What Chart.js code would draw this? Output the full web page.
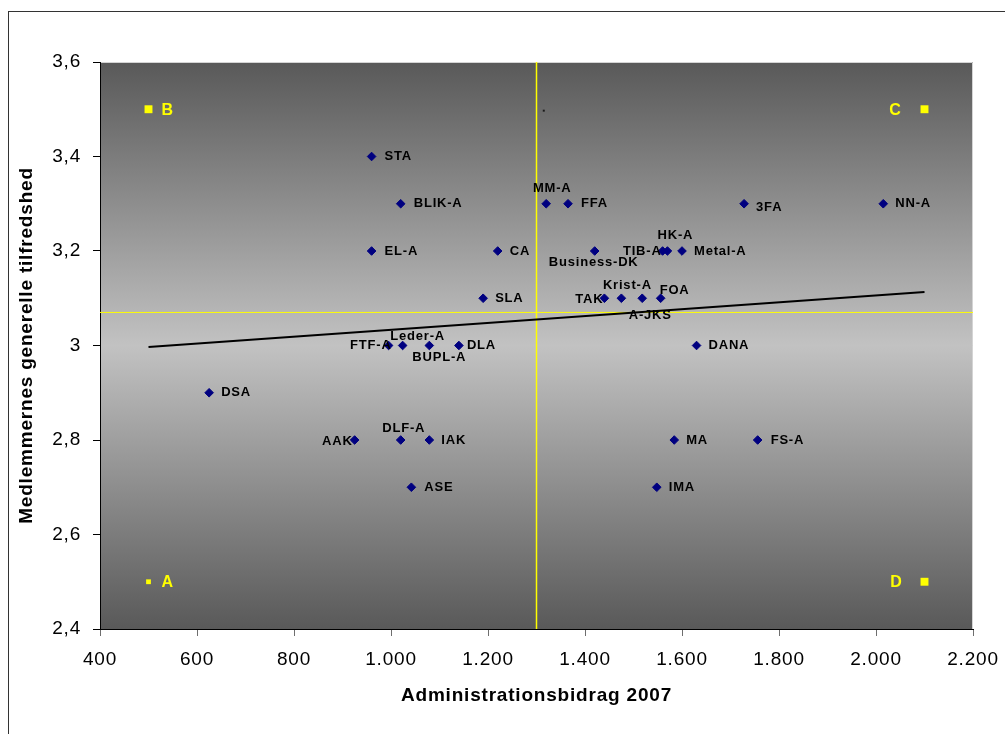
<!DOCTYPE html>
<html>
<head>
<meta charset="utf-8">
<script src="https://cdn.jsdelivr.net/npm/chart.js@4/dist/chart.umd.min.js"></script>
<style>
  html, body { margin: 0; padding: 0; background: #ffffff; }
  canvas { display: block; }
</style>
</head>
<body>
<canvas id="chart" width="1005" height="734"></canvas>
<script>
// Organisations: administration contribution 2007 vs. members' overall satisfaction
const organisations = [
  'STA', 'BLIK-A', 'EL-A', 'CA', 'MM-A', 'FFA', 'Business-DK', 'TIB-A', 'HK-A', 'Metal-A',
  '3FA', 'NN-A', 'TAK', 'Krist-A', 'A-JKS', 'FOA', 'SLA', 'FTF-A', 'Leder-A', 'BUPL-A',
  'DLA', 'DANA', 'DSA', 'AAK', 'DLF-A', 'IAK', 'ASE', 'MA', 'FS-A', 'IMA'
];
const adminBidrag = [
  960, 1020, 960, 1220, 1320, 1365, 1420, 1560, 1570, 1600,
  1728, 2015, 1440, 1475, 1518, 1556, 1190, 995, 1024, 1079,
  1140, 1630, 625, 925, 1020, 1079, 1042, 1584, 1756, 1548
];
const tilfredshed = [
  3.4, 3.3, 3.2, 3.2, 3.3, 3.3, 3.2, 3.2, 3.2, 3.2,
  3.3, 3.3, 3.1, 3.1, 3.1, 3.1, 3.1, 3.0, 3.0, 3.0,
  3.0, 3.0, 2.9, 2.8, 2.8, 2.8, 2.7, 2.8, 2.8, 2.7
];

// Quadrant corner markers
const quadrantNames = ['A', 'B', 'C', 'D'];
const quadrantX = [500, 500, 2100, 2100];
const quadrantY = [2.5, 3.5, 3.5, 2.5];

// Linear trend line end points
const trendX = [500, 2100];
const trendY = [2.997, 3.113];

// Average lines
const averageBidrag = 1300;
const averageTilfredshed = 3.07;

// Small stray marker
const strayX = [1315];
const strayY = [3.497];

// Axis ranges and tick steps
const xTicks = [400, 600, 800, 1000, 1200, 1400, 1600, 1800, 2000, 2200];
const yTicks = [2.4, 2.6, 2.8, 3.0, 3.2, 3.4, 3.6];

// Label placement per organisation: [anchor, dx, dy]
const labelPlacement = {
  'STA': ['left', 13, 0], 'BLIK-A': ['left', 13, 0], 'EL-A': ['left', 13, 0],
  'CA': ['left', 12, 0], 'MM-A': ['center', 6, -15], 'FFA': ['left', 13, 0],
  'Business-DK': ['center', -1, 11], 'TIB-A': ['right', -1, 0], 'HK-A': ['center', 8, -16],
  'Metal-A': ['left', 12, 0], '3FA': ['left', 12, 4], 'NN-A': ['left', 12, 0],
  'TAK': ['right', -1, 1], 'Krist-A': ['center', 6, -13], 'A-JKS': ['center', 8, 17],
  'FOA': ['left', -1, -8], 'SLA': ['left', 12, 0], 'FTF-A': ['right', 3, 0],
  'Leder-A': ['center', 15, -9], 'BUPL-A': ['center', 10, 12], 'DLA': ['left', 8, 0],
  'DANA': ['left', 12, 0], 'DSA': ['left', 12, 0], 'AAK': ['right', -2, 1],
  'DLF-A': ['center', 3, -12], 'IAK': ['left', 12, 0], 'ASE': ['left', 13, 0],
  'MA': ['left', 12, 0], 'FS-A': ['left', 13, 0], 'IMA': ['left', 12, 0]
};
const quadrantPlacement = {
  'A': ['left', 13, 1], 'B': ['left', 13, 1], 'C': ['right', -23, 1], 'D': ['right', -22, 1]
};

const FONT = "'Liberation Sans', Arial, sans-serif";

function toPoints(xs, ys) {
  return xs.map((x, i) => ({ x: x, y: ys[i] }));
}

function formatThousands(v) {
  const n = Math.round(v);
  if (n >= 1000) return Math.floor(n / 1000) + '.' + String(n % 1000).padStart(3, '0');
  return String(n);
}
function formatDecimal(v) {
  return String(Math.round(v * 10) / 10).replace('.', ',');
}

const spacingPlugin = {
  id: 'spacing',
  beforeUpdate(chart) { chart.ctx.letterSpacing = '0.8px'; },
  beforeDraw(chart) { chart.ctx.letterSpacing = '0.8px'; }
};

const backdropPlugin = {
  id: 'backdrop',
  beforeDraw(chart) {
    const ctx = chart.ctx;
    const a = chart.chartArea;
    ctx.save();
    ctx.fillStyle = '#ffffff';
    ctx.fillRect(0, 0, chart.width, chart.height);
    // outer frame
    ctx.strokeStyle = '#333333';
    ctx.lineWidth = 1;
    ctx.strokeRect(8.5, 11.5, 1200, 900);
    // plot area gradient
    const g = ctx.createLinearGradient(0, a.top, 0, a.bottom);
    g.addColorStop(0, '#595959');
    g.addColorStop(0.5, '#c2c2c2');
    g.addColorStop(1, '#595959');
    ctx.fillStyle = g;
    ctx.fillRect(a.left, a.top, a.right - a.left, a.bottom - a.top);
    // light top and right edges
    ctx.strokeStyle = '#d4d4d4';
    ctx.beginPath();
    ctx.moveTo(a.left, a.top + 0.5);
    ctx.lineTo(a.right - 0.5, a.top + 0.5);
    ctx.lineTo(a.right - 0.5, a.bottom);
    ctx.stroke();
    ctx.restore();
  }
};

const labelPlugin = {
  id: 'pointLabels',
  afterDatasetsDraw(chart) {
    const ctx = chart.ctx;
    const xs = chart.scales.x, ys = chart.scales.y;
    ctx.save();
    ctx.letterSpacing = '0.8px';
    ctx.textBaseline = 'middle';
    ctx.font = 'bold 13px ' + FONT;
    ctx.fillStyle = '#000000';
    organisations.forEach((name, i) => {
      const p = labelPlacement[name] || ['left', 12, 0];
      ctx.textAlign = p[0];
      ctx.fillText(name, xs.getPixelForValue(adminBidrag[i]) + p[1], ys.getPixelForValue(tilfredshed[i]) + p[2]);
    });
    ctx.font = 'bold 16px ' + FONT;
    ctx.fillStyle = '#ffff00';
    quadrantNames.forEach((name, i) => {
      const p = quadrantPlacement[name];
      ctx.textAlign = p[0];
      ctx.fillText(name, xs.getPixelForValue(quadrantX[i]) + p[1], ys.getPixelForValue(quadrantY[i]) + p[2]);
    });
    ctx.restore();
  }
};

new Chart(document.getElementById('chart'), {
  type: 'scatter',
  data: {
    datasets: [
      {
        label: 'Organisationer',
        data: toPoints(adminBidrag, tilfredshed),
        pointStyle: 'rectRot',
        pointRadius: 4.3,
        pointBackgroundColor: '#000080',
        pointBorderColor: '#000080',
        pointBorderWidth: 1,
        order: 0
      },
      {
        label: 'Kvadranter',
        data: toPoints(quadrantX, quadrantY),
        pointStyle: 'rect',
        pointRadius: [3.4, 5.6, 5.6, 5.6],
        pointBackgroundColor: '#ffff00',
        pointBorderColor: '#ffff00',
        pointBorderWidth: 0,
        order: 0
      },
      {
        label: 'Punkt',
        data: toPoints(strayX, strayY),
        pointStyle: 'rect',
        pointRadius: 1.4,
        pointBackgroundColor: '#1a1a1a',
        pointBorderWidth: 0,
        order: 0
      },
      {
        label: 'Tendens',
        type: 'line',
        data: toPoints(trendX, trendY),
        borderColor: '#000000',
        borderWidth: 2,
        pointRadius: 0,
        fill: false,
        order: 1
      },
      {
        label: 'Gennemsnit bidrag',
        type: 'line',
        data: [{ x: averageBidrag, y: yTicks[0] }, { x: averageBidrag, y: yTicks[yTicks.length - 1] }],
        borderColor: '#ffff00',
        borderWidth: 1.5,
        pointRadius: 0,
        fill: false,
        order: 2
      },
      {
        label: 'Gennemsnit tilfredshed',
        type: 'line',
        data: [{ x: xTicks[0], y: averageTilfredshed }, { x: xTicks[xTicks.length - 1], y: averageTilfredshed }],
        borderColor: '#ffff00',
        borderWidth: 1,
        pointRadius: 0,
        fill: false,
        order: 2
      }
    ]
  },
  options: {
    responsive: false,
    animation: false,
    events: [],
    layout: { padding: { top: 62, right: 32, left: 0, bottom: 0 } },
    plugins: {
      legend: { display: false },
      tooltip: { enabled: false }
    },
    scales: {
      x: {
        type: 'linear',
        min: xTicks[0],
        max: xTicks[xTicks.length - 1],
        afterBuildTicks(scale) { scale.ticks = xTicks.map(v => ({ value: v })); },
        afterFit(scale) { scale.height = 105; scale.paddingLeft = 0; scale.paddingRight = 0; },
        ticks: {
          callback: v => formatThousands(v),
          color: '#000000',
          font: { family: FONT, size: 19 },
          padding: 12,
          maxRotation: 0,
          autoSkip: false
        },
        grid: { drawOnChartArea: false, drawTicks: true, tickLength: 7, color: '#6e6e6e' },
        border: { display: true, color: '#000000', width: 1 },
        title: {
          display: true,
          text: 'Administrationsbidrag 2007',
          color: '#000000',
          font: { family: FONT, size: 19, weight: 'bold' },
          padding: { top: 0, bottom: 27 }
        }
      },
      y: {
        type: 'linear',
        min: yTicks[0],
        max: yTicks[yTicks.length - 1],
        afterBuildTicks(scale) { scale.ticks = yTicks.map(v => ({ value: v })); },
        afterFit(scale) { scale.width = 100; scale.paddingTop = 0; scale.paddingBottom = 0; },
        ticks: {
          callback: v => formatDecimal(v),
          color: '#000000',
          font: { family: FONT, size: 19 },
          padding: 12,
          autoSkip: false
        },
        grid: { drawOnChartArea: false, drawTicks: true, tickLength: 7, color: '#000000' },
        border: { display: true, color: '#000000', width: 1 },
        title: {
          display: true,
          text: 'Medlemmernes generelle tilfredshed',
          color: '#000000',
          font: { family: FONT, size: 19, weight: 'bold' },
          padding: { top: 15, bottom: 0 }
        }
      }
    }
  },
  plugins: [spacingPlugin, backdropPlugin, labelPlugin]
});
</script>
</body>
</html>
